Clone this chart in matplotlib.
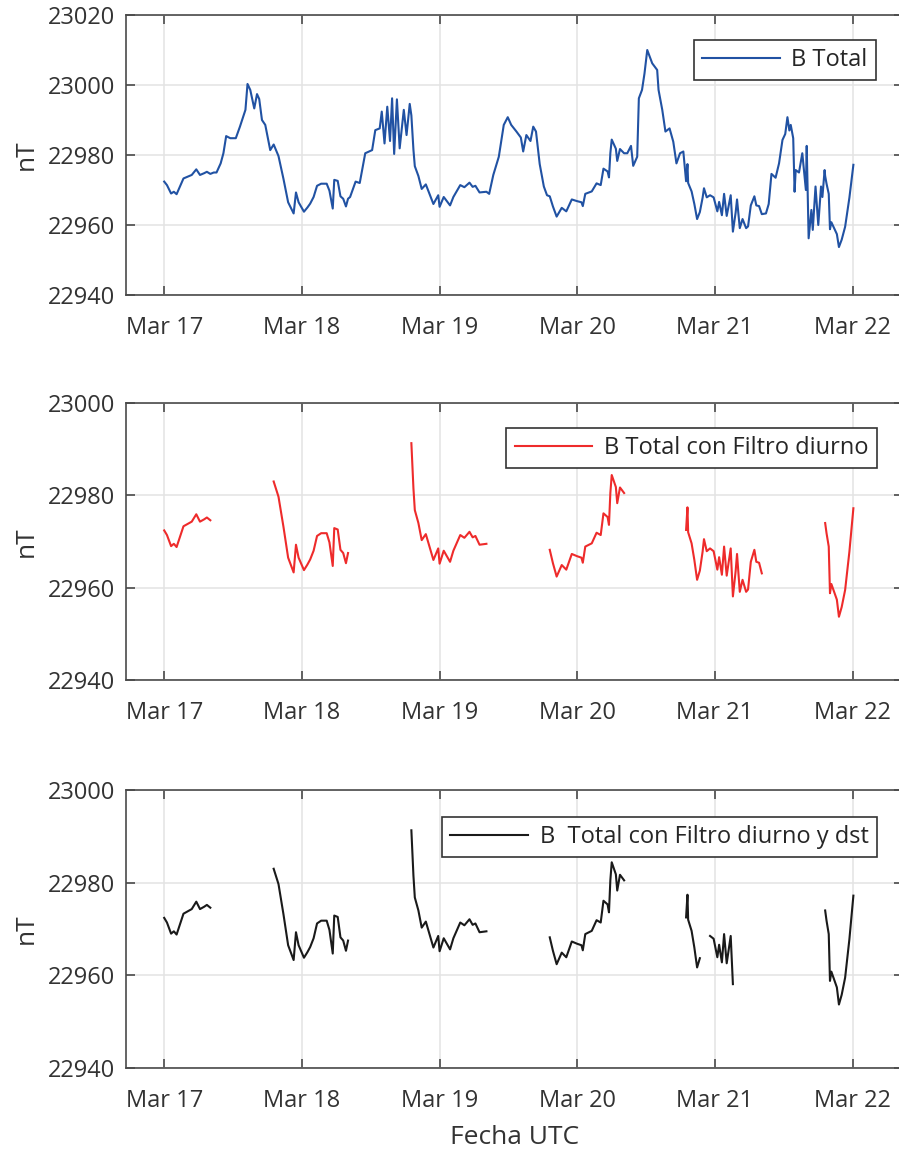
import datetime as dt
import numpy as np
import matplotlib
matplotlib.use("Agg")
import matplotlib.pyplot as plt
import matplotlib.dates as mdates

plt.rcParams['font.family'] = ['Open Sans', 'DejaVu Sans']

# Time in days from Mar 17 00:00 UTC, total field in nT
start_date = dt.datetime(2015, 3, 17)
days = [
    0.000, 0.02, 0.05, 0.07, 0.09, 0.12, 0.14, 0.17, 0.20, 0.233, 0.26, 0.29, 0.31, 0.335,
    0.36, 0.38, 0.41, 0.43, 0.45, 0.48, 0.52, 0.55, 0.59, 0.605, 0.625, 0.654, 0.674, 0.69,
    0.71, 0.734, 0.77, 0.795, 0.83, 0.866, 0.90, 0.94, 0.957, 0.976, 1.015, 1.04, 1.06,
    1.085, 1.11, 1.14, 1.18, 1.20, 1.224, 1.235, 1.26, 1.28, 1.30, 1.32, 1.335,
    1.35, 1.39, 1.42, 1.46, 1.51, 1.533, 1.565, 1.58, 1.60, 1.62, 1.64, 1.655, 1.67, 1.69,
    1.71, 1.74, 1.76, 1.783, 1.795, 1.81, 1.82, 1.846, 1.87, 1.90, 1.93, 1.955, 1.99, 2.00,
    2.03, 2.076, 2.10, 2.15, 2.18, 2.217, 2.24, 2.26, 2.29, 2.34,
    2.36, 2.39, 2.43, 2.466, 2.495, 2.52, 2.558, 2.59, 2.607, 2.63, 2.66, 2.68, 2.70, 2.727,
    2.757, 2.78, 2.80, 2.823, 2.85, 2.887, 2.92, 2.96, 3.00, 3.03, 3.04, 3.058, 3.105, 3.14,
    3.17, 3.19, 3.22, 3.23, 3.24, 3.25, 3.28, 3.29, 3.31, 3.34,
    3.363, 3.39, 3.406, 3.435, 3.447, 3.47, 3.488, 3.508, 3.544, 3.58, 3.59, 3.617, 3.64,
    3.67, 3.697, 3.72, 3.746, 3.77, 3.79, 3.80, 3.805, 3.83, 3.85, 3.87, 3.89, 3.91, 3.92,
    3.94, 3.964, 3.99, 4.017, 4.03, 4.05, 4.066, 4.085, 4.114, 4.13, 4.15, 4.16, 4.18, 4.20,
    4.226, 4.24, 4.26, 4.286, 4.30, 4.32, 4.34,
    4.37, 4.39, 4.41, 4.44, 4.465, 4.49, 4.51, 4.526, 4.54, 4.55, 4.568, 4.578, 4.586, 4.61,
    4.634, 4.66, 4.666, 4.68, 4.70, 4.71, 4.73, 4.75, 4.77, 4.78, 4.796, 4.80, 4.81, 4.826,
    4.835, 4.845, 4.86, 4.885, 4.90, 4.92, 4.945, 4.976, 5.005,
]
b_total = [
    22972.4, 22971.4, 22969.0, 22969.5, 22968.8, 22971.5, 22973.3, 22973.8, 22974.3, 22975.9,
    22974.3, 22974.8, 22975.2, 22974.6,
    22975.0, 22975.0, 22977.6, 22980.5, 22985.4, 22984.8, 22984.8, 22988.1, 22992.9, 23000.3,
    22998.6, 22993.3, 22997.4, 22996.0, 22990.0, 22988.6, 22981.4, 22983.0, 22979.7, 22973.2,
    22966.5, 22963.3, 22969.3, 22966.5, 22963.8, 22965.0, 22966.1, 22968.0, 22971.2, 22971.8,
    22971.8, 22969.8, 22964.7, 22972.9, 22972.6, 22968.2, 22967.5, 22965.3, 22967.5,
    22968.0, 22972.4, 22972.0, 22980.5, 22981.4, 22987.1, 22987.6, 22992.4, 22983.3, 22993.8,
    22984.0, 22996.2, 22980.3, 22995.9, 22981.9, 22992.9, 22985.7, 22994.6, 22991.3, 22981.5,
    22976.8, 22974.0, 22970.3, 22971.6, 22968.5, 22966.0, 22968.5, 22965.2, 22968.0, 22965.6,
    22968.0, 22971.4, 22970.8, 22972.1, 22970.9, 22971.2, 22969.3, 22969.5,
    22968.9, 22974.3, 22979.5, 22988.6, 22990.8, 22988.6, 22986.7, 22985.0, 22981.0, 22985.7,
    22984.0, 22988.1, 22986.7, 22977.4, 22971.0, 22968.5, 22968.2, 22965.3, 22962.4, 22964.9,
    22963.9, 22967.3, 22966.8, 22966.5, 22965.4, 22968.9, 22969.6, 22971.9, 22971.4, 22976.1,
    22975.3, 22973.6, 22980.5, 22984.4, 22981.8, 22978.3, 22981.7, 22980.5,
    22980.5, 22982.6, 22976.9, 22979.5, 22996.2, 22998.6, 23003.3, 23010.0, 23006.2, 23004.3,
    22998.6, 22992.9, 22986.7, 22987.6, 22983.8, 22977.6, 22980.5, 22981.0, 22972.5, 22977.4,
    22972.0, 22969.6, 22966.0, 22961.7, 22963.7, 22967.8, 22970.5, 22967.9, 22968.5, 22967.9,
    22963.9, 22966.6, 22962.8, 22968.9, 22962.6, 22968.5, 22958.1, 22963.6, 22967.3, 22959.1,
    22961.7, 22959.1, 22959.6, 22965.6, 22968.2, 22965.6, 22965.4, 22963.1,
    22963.3, 22966.0, 22974.6, 22973.5, 22977.6, 22984.3, 22986.0, 22990.8, 22987.0, 22988.6,
    22984.8, 22969.5, 22975.7, 22975.0, 22980.5, 22970.0, 22982.6, 22956.2, 22964.3, 22958.6,
    22971.0, 22960.0, 22971.0, 22968.0, 22975.7, 22974.0, 22971.8, 22968.9, 22958.8, 22960.8,
    22959.5, 22957.4, 22953.7, 22955.8, 22959.5, 22967.8, 22977.2,
]

# Daytime windows removed by the diurnal filter (days)
diurnal_gaps = [(0.335, 0.795), (1.335, 1.795), (2.34, 2.80), (3.34, 3.79), (4.34, 4.80)]
# Extra windows removed by the dst filter
dst_gaps = [(3.89, 3.964), (4.13, 4.34)]

tick_labels = ['Mar 17', 'Mar 18', 'Mar 19', 'Mar 20', 'Mar 21', 'Mar 22']
legend_labels = ['B Total', 'B Total con Filtro diurno', 'B  Total con Filtro diurno y dst']

t = np.array(days)
b = np.array(b_total)


def remove_windows(values, windows):
    out = values.copy()
    for a, c in windows:
        out[(t > a) & (t < c)] = np.nan
    return out


b_diurno = remove_windows(b, diurnal_gaps)
b_dst = remove_windows(b_diurno, dst_gaps)

x0 = mdates.date2num(start_date)
x = x0 + t

text_col = '#333333'
axis_col = '#4a4a4a'

fig = plt.figure(figsize=(8.99, 11.51), dpi=100)
W, H = 899, 1151
left_px, right_px = 126, 903   # right spine falls just outside the canvas
px_per_day = 137.7
panels = [(15, 295), (403, 680), (790, 1068)]
series = [b, b_diurno, b_dst]
colors = ['#2152a3', '#ee2b2b', '#1a1a1a']
ylims = [(22940, 23020), (22940, 23000), (22940, 23000)]
width_px = right_px - left_px
leg_anchor = [((876 - left_px) / width_px, 0.911),
              ((877 - left_px) / width_px, 0.910),
              ((877 - left_px) / width_px, 0.903)]

for i, (top, bot) in enumerate(panels):
    ax = fig.add_axes([left_px / W, 1 - bot / H, width_px / W, (bot - top) / H])
    ax.plot(x, series[i], color=colors[i], lw=1.5, label=legend_labels[i])
    ax.set_ylim(*ylims[i])
    ax.set_yticks(np.arange(ylims[i][0], ylims[i][1] + 1, 20))
    ax.set_xlim(x0 - (164.2 - left_px) / px_per_day, x0 + (right_px - 164.2) / px_per_day)
    ax.set_xticks([x0 + k for k in range(len(tick_labels))])
    ax.set_xticklabels(tick_labels)
    ax.grid(True, color='#e3e3e3', lw=1.1)
    ax.set_axisbelow(True)
    ax.tick_params(direction='in', length=6.5, width=1.2, colors=axis_col,
                   labelcolor=text_col, labelsize=17, top=True, right=True)
    ax.tick_params(axis='x', pad=15)
    ax.tick_params(axis='y', pad=8)
    for s in ax.spines.values():
        s.set_color(axis_col)
        s.set_linewidth(1.2)
    ax.set_ylabel('nT', fontsize=19, color=text_col, labelpad=6)
    leg = ax.legend(loc='upper right', bbox_to_anchor=leg_anchor[i], borderaxespad=0,
                    fontsize=17, handlelength=3.3, handletextpad=0.5, borderpad=0.35,
                    fancybox=False, framealpha=1, edgecolor='#333333')
    leg.get_frame().set_linewidth(1.2)
    for txt in leg.get_texts():
        txt.set_color('#262626')
    if i == 2:
        ax.set_xlabel('Fecha UTC', fontsize=19, color=text_col, labelpad=9)

fig.savefig('out.png', dpi=100)
